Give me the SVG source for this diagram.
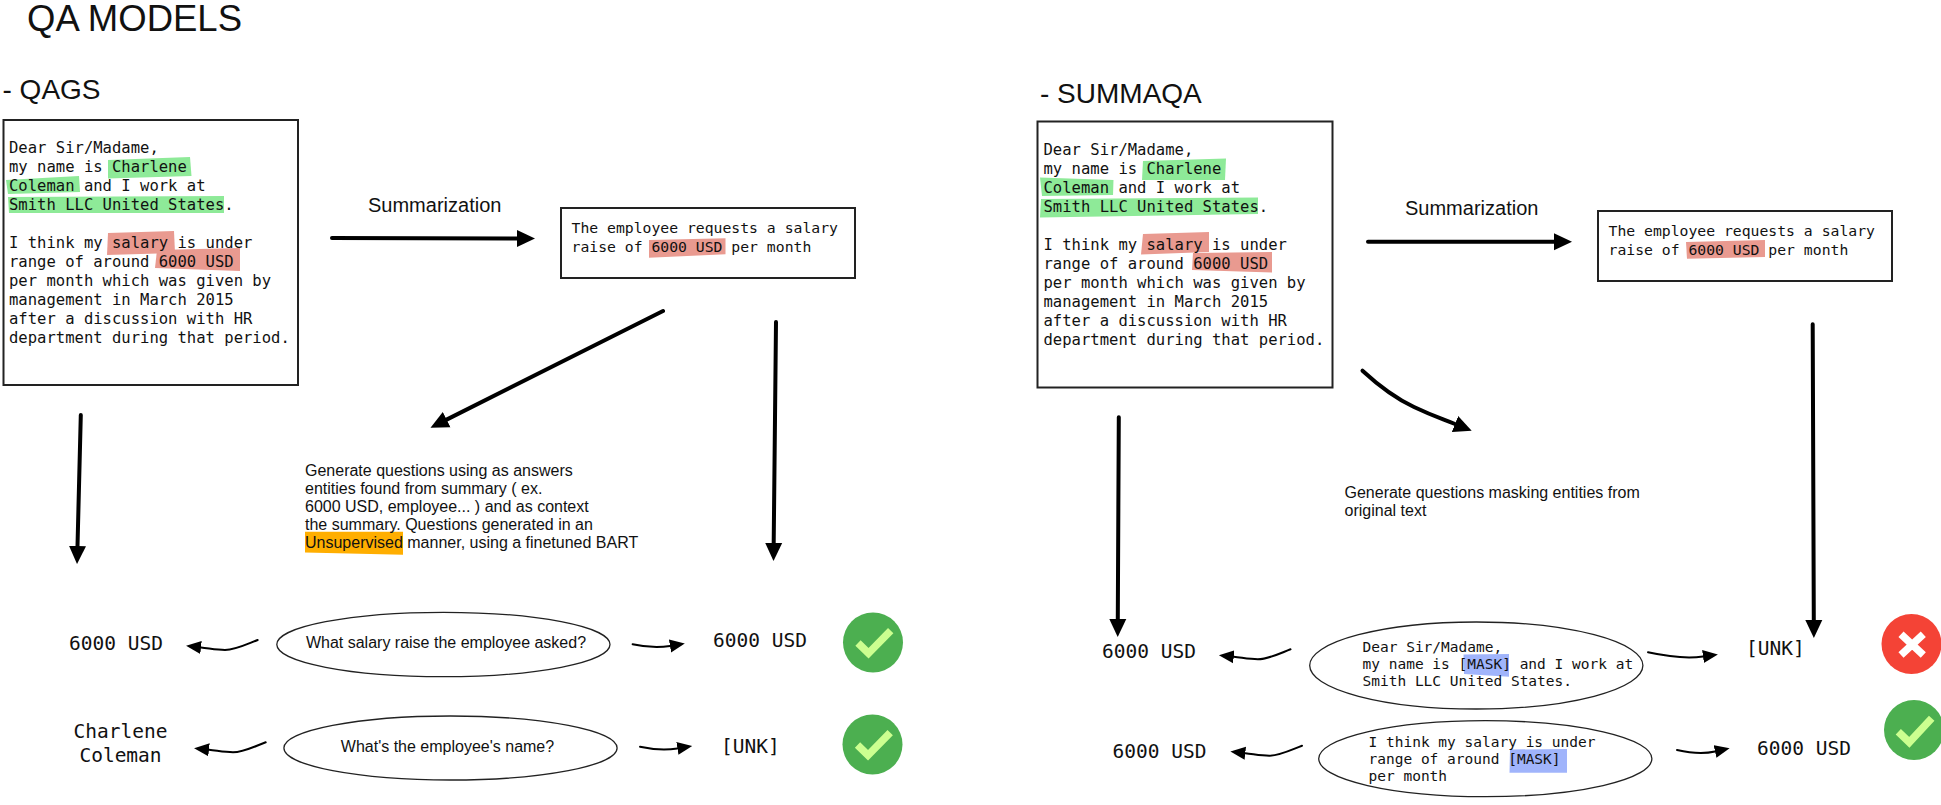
<svg xmlns="http://www.w3.org/2000/svg" width="1941" height="805" viewBox="0 0 1941 805">
<style>
text{fill:#111;white-space:pre}
.h1{font:36.5px "Liberation Sans",Arial,sans-serif}
.h2{font:28px "Liberation Sans",Arial,sans-serif}
.s{font:20px "Liberation Sans",Arial,sans-serif}
.g{font:16px "Liberation Sans",Arial,sans-serif}
.q{font:16px "Liberation Sans",Arial,sans-serif}
.m{font:15.55px "DejaVu Sans Mono",monospace}
.ms{font:14.75px "DejaVu Sans Mono",monospace}
.me{font:14.5px "DejaVu Sans Mono",monospace}
.ml{font:19.5px "DejaVu Sans Mono",monospace}
.box{fill:#fff;stroke:#222;stroke-width:2}
.oval{fill:#fff;stroke:#222;stroke-width:1.3}
.green{fill:#8eea98}.red{fill:#e99a90}.orange{fill:#ffae00}.blue{fill:#a0b4fb}
.ok{fill:#4caf50}.bad{fill:#f44336}
.tick{fill:none;stroke:#ccff90;stroke-width:7.5}
.cross{fill:none;stroke:#fff;stroke-width:7.5}
.big{fill:none;stroke:#000;stroke-width:4;stroke-linecap:round;marker-end:url(#hb)}
.cur{fill:none;stroke:#000;stroke-width:2;stroke-linecap:round;marker-end:url(#hs)}
</style>
<defs>
<marker id="hb" markerUnits="userSpaceOnUse" viewBox="0 0 18 18" markerWidth="18" markerHeight="18" refX="0" refY="9" orient="auto"><path d="M0 0.5L18 9L0 17.5Z" fill="#000"/></marker>
<marker id="hs" markerUnits="userSpaceOnUse" viewBox="0 0 15 14" markerWidth="15" markerHeight="14" refX="0" refY="7" orient="auto"><path d="M0 0.5L15 7L0 13.5Z" fill="#000"/></marker>
</defs>
<rect width="1941" height="805" fill="#fff"/>

<g id="titles">
<text class="h1" x="27" y="31">QA MODELS</text>
<text class="h2" x="2.5" y="99">- QAGS</text>
<text class="h2" x="1040" y="103">- SUMMAQA</text>
</g>

<g id="connectors">
<path class="big" d="M332 238L517 238.5"/>
<path class="big" d="M663 311L446.6 419.6"/>
<path class="big" d="M776 322L773.7 543"/>
<path class="big" d="M80.8 415L77.5 546"/>
<path class="big" d="M1368 241.7L1554 241.7"/>
<path class="big" d="M1362.5 370.7C1378 385 1395 398 1414 407S1440 418 1455 424"/>
<path class="big" d="M1118.8 417.3L1117.8 619"/>
<path class="big" d="M1812.7 324.3L1813.8 620"/>
<path class="cur" d="M257.7 640C245 645 235 650 225 650C217 650 210 648.5 201 647.5"/>
<path class="cur" d="M632.6 644.3C645 647 658 648 670 646"/>
<path class="cur" d="M265.7 742.3C253 747 243 752.3 233 752.3C225 752.3 218 750.8 209 749.8"/>
<path class="cur" d="M640 746.7C652.4 749.4 665.4 750.4 677.4 748.4"/>
<path class="cur" d="M1290.5 649.3C1277.8 654.3 1267.8 659.3 1257.8 659.3C1249.8 659.3 1242.8 657.8 1233.8 656.8"/>
<path class="cur" d="M1648 652.3C1665 656 1685 659 1703 656.5"/>
<path class="cur" d="M1302 745.7C1289.3 750.7 1279.3 755.7 1269.3 755.7C1261.3 755.7 1254.3 754.2 1245.3 753.2"/>
<path class="cur" d="M1677 750C1690 753 1704 754 1715 751.5"/>
</g>

<g id="qags-source">
<rect class="box" x="3.5" y="120" width="294.5" height="265"/>
<path class="green" d="M108 160L190 157L191.5 176L108 178.5Z"/>
<path class="green" d="M6 180L79 176L80 192L8 194Z"/>
<path class="green" d="M8 197L224 196L224 213L9 213Z"/>
<path class="red" d="M108 233L174 231L175 253L107 255Z"/>
<path class="red" d="M157 250L240 248L240 271L155 268Z"/>
<text class="m"><tspan x="9" y="153.3">Dear Sir/Madame,</tspan><tspan x="9" y="172.3">my name is Charlene</tspan><tspan x="9" y="191.3">Coleman and I work at</tspan><tspan x="9" y="210.3">Smith LLC United States.</tspan><tspan x="9" y="248">I think my salary is under</tspan><tspan x="9" y="267">range of around 6000 USD</tspan><tspan x="9" y="286">per month which was given by</tspan><tspan x="9" y="305">management in March 2015</tspan><tspan x="9" y="324">after a discussion with HR</tspan><tspan x="9" y="343">department during that period.</tspan></text>
</g>
<g id="qags-summarization-label"><text class="s" x="368" y="212">Summarization</text></g>
<g id="qags-summary">
<rect class="box" x="561" y="208" width="294" height="70"/>
<path class="red" d="M649 240L725.5 238.3L725.5 254.3L649 257.7Z"/>
<text class="ms"><tspan x="571.5" y="233.3">The employee requests a salary</tspan><tspan x="571.5" y="252.3">raise of 6000 USD per month</tspan></text>
</g>
<g id="qags-note">
<path class="orange" d="M305 531.7L403 531.7L403 554.7L305 552.5Z"/>
<text class="g"><tspan x="305" y="476">Generate questions using as answers</tspan><tspan x="305" y="494">entities found from summary ( ex.</tspan><tspan x="305" y="512">6000 USD, employee... ) and as context</tspan><tspan x="305" y="530">the summary. Questions generated in an</tspan><tspan x="305" y="548">Unsupervised manner, using a finetuned BART</tspan></text>
</g>
<g id="qags-q1">
<ellipse class="oval" cx="443.4" cy="644.5" rx="166.6" ry="32.2"/>
<text class="q" x="446" y="648" text-anchor="middle">What salary raise the employee asked?</text>
</g>
<g id="qags-q2">
<ellipse class="oval" cx="450.5" cy="748" rx="166.6" ry="32"/>
<text class="q" x="447.5" y="752" text-anchor="middle">What's the employee's name?</text>
</g>
<g id="qags-a1-left"><text class="ml" x="69" y="650">6000 USD</text></g>
<g id="qags-a1-right"><text class="ml" x="713" y="646.7">6000 USD</text></g>
<g id="qags-a2-left"><text class="ml" text-anchor="middle"><tspan x="120.5" y="737.7">Charlene</tspan><tspan x="120.5" y="761.7">Coleman</tspan></text></g>
<g id="qags-a2-right"><text class="ml" x="721" y="753">[UNK]</text></g>
<g id="qags-check1"><circle class="ok" cx="873" cy="642.5" r="30"/><path class="tick" d="M858 643L868.5 653.3L890.7 630.7"/></g>
<g id="qags-check2"><circle class="ok" cx="872.5" cy="744.5" r="30"/><path class="tick" d="M857.5 745L868 755.3L890.2 732.7"/></g>

<g id="summaqa-source">
<rect class="box" x="1037.5" y="121.5" width="295" height="266"/>
<path class="green" d="M1143 161L1226 158.5L1225 180L1142 180Z"/>
<path class="green" d="M1040 177.5L1113.5 180L1113 195L1042 196Z"/>
<path class="green" d="M1041 199L1258 197.5L1258 214L1040 217.5Z"/>
<path class="red" d="M1143 234L1209 232L1209 252L1141 254.5Z"/>
<path class="red" d="M1193 253L1272 252L1272 272.5L1192 270Z"/>
<text class="m"><tspan x="1043.5" y="155">Dear Sir/Madame,</tspan><tspan x="1043.5" y="174">my name is Charlene</tspan><tspan x="1043.5" y="193">Coleman and I work at</tspan><tspan x="1043.5" y="212">Smith LLC United States.</tspan><tspan x="1043.5" y="250">I think my salary is under</tspan><tspan x="1043.5" y="269">range of around 6000 USD</tspan><tspan x="1043.5" y="288">per month which was given by</tspan><tspan x="1043.5" y="307">management in March 2015</tspan><tspan x="1043.5" y="326">after a discussion with HR</tspan><tspan x="1043.5" y="345">department during that period.</tspan></text>
</g>
<g id="summaqa-summarization-label"><text class="s" x="1405" y="215">Summarization</text></g>
<g id="summaqa-summary">
<rect class="box" x="1598" y="211" width="294" height="70"/>
<path class="red" d="M1686 242L1765 240L1765 257L1687 258.7Z"/>
<text class="ms"><tspan x="1608.5" y="236">The employee requests a salary</tspan><tspan x="1608.5" y="255">raise of 6000 USD per month</tspan></text>
</g>
<g id="summaqa-note">
<text class="g"><tspan x="1344.5" y="498.3">Generate questions masking entities from</tspan><tspan x="1344.5" y="516">original text</tspan></text>
</g>
<g id="summaqa-q1">
<ellipse class="oval" cx="1476.3" cy="665.5" rx="166.6" ry="43.5"/>
<path class="blue" d="M1463.5 654.5L1509 654L1509 676.7L1464 674Z"/>
<text class="me"><tspan x="1362.5" y="651.7">Dear Sir/Madame,</tspan><tspan x="1362.5" y="669">my name is [MASK] and I work at</tspan><tspan x="1362.5" y="685.7">Smith LLC United States.</tspan></text>
</g>
<g id="summaqa-q2">
<ellipse class="oval" cx="1485.3" cy="758.7" rx="166.6" ry="38"/>
<path class="blue" d="M1510 749.5L1567 749L1567 772.7L1509.5 772.7Z"/>
<text class="me"><tspan x="1368.5" y="747.3">I think my salary is under</tspan><tspan x="1368.5" y="764.3">range of around [MASK]</tspan><tspan x="1368.5" y="781">per month</tspan></text>
</g>
<g id="summaqa-a1-left"><text class="ml" x="1102" y="658">6000 USD</text></g>
<g id="summaqa-a1-right"><text class="ml" x="1746" y="655">[UNK]</text></g>
<g id="summaqa-a2-left"><text class="ml" x="1112.5" y="758.3">6000 USD</text></g>
<g id="summaqa-a2-right"><text class="ml" x="1757" y="755">6000 USD</text></g>
<g id="summaqa-cross"><circle class="bad" cx="1911.5" cy="644" r="30"/><path class="cross" d="M1901 634.3L1923.3 655M1923.3 634.3L1901 655"/></g>
<g id="summaqa-check"><circle class="ok" cx="1914" cy="730" r="30"/><path class="tick" d="M1898.3 731.7L1909.3 742.3L1931.7 718.3"/></g>
</svg>
